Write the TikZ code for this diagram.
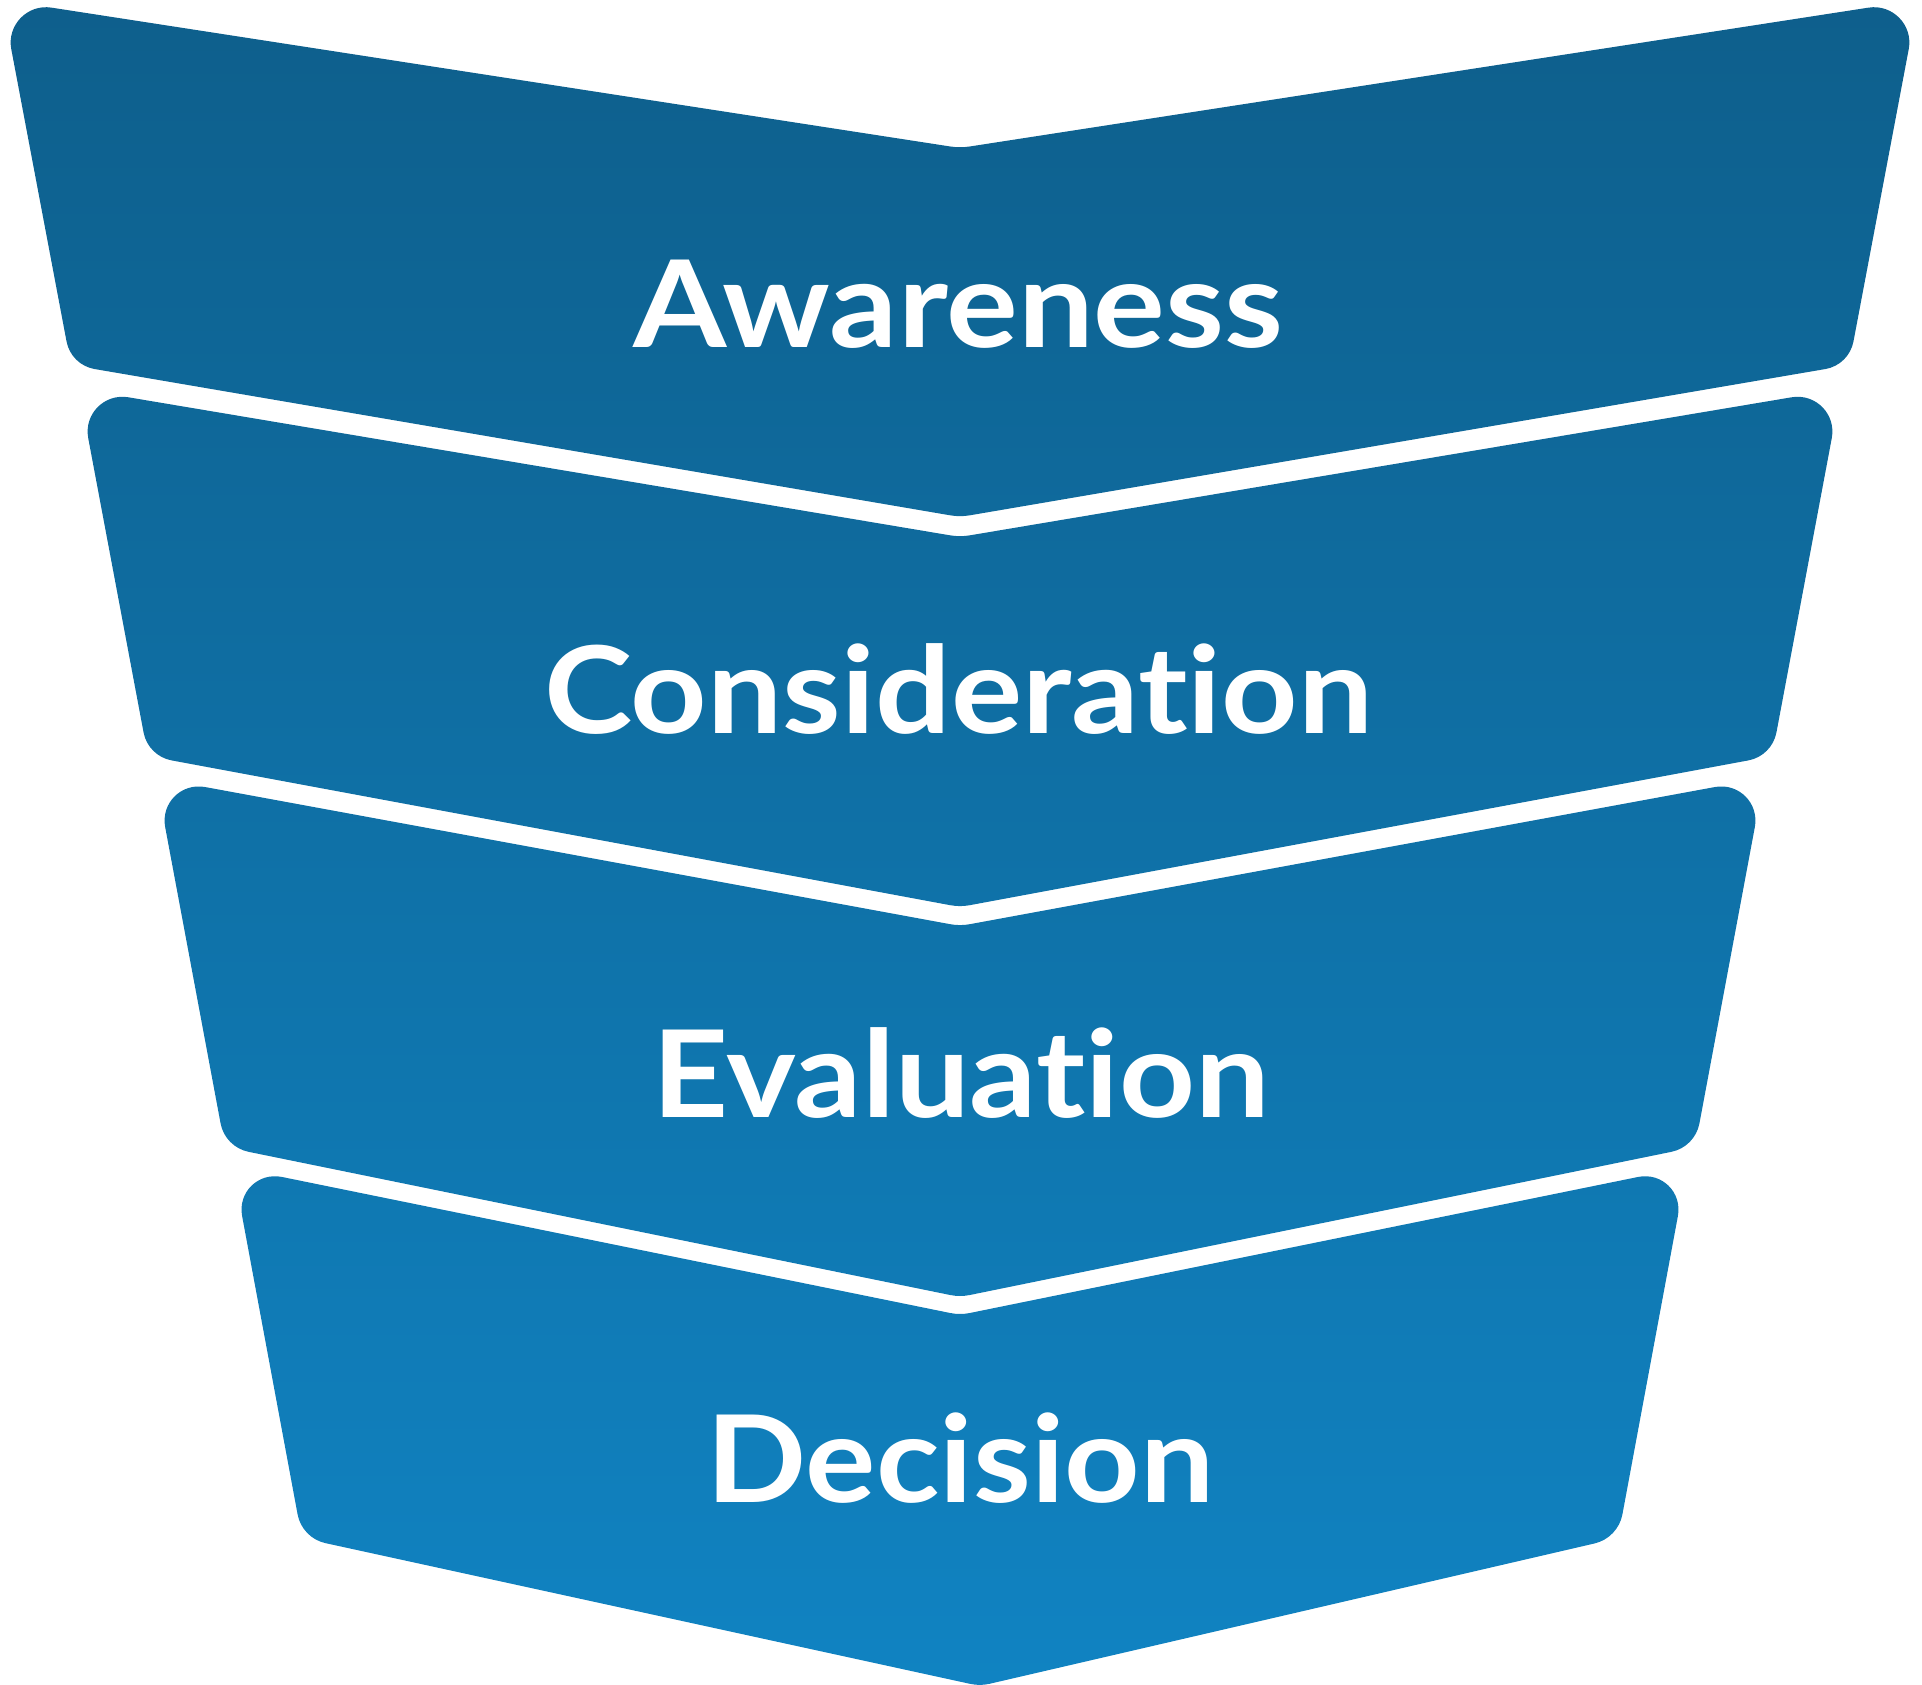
\documentclass[tikz,border=0pt]{standalone}
\usepackage{fontspec}
\setmainfont{Lato}[Ligatures={NoCommon}]
\usetikzlibrary{calc}
\definecolor{ctop}{RGB}{14,95,140}
\definecolor{cbot}{RGB}{16,131,194}

% rounded corner helper: name, previous vertex, vertex, next vertex, cut length, control fraction
\newcommand{\rcorner}[6]{%
  \coordinate (#1a) at ($(#3)!#5!(#2)$);
  \coordinate (#1b) at ($(#3)!#5!(#4)$);
  \coordinate (#1p) at ($(#3)!#6!(#1a)$);
  \coordinate (#1q) at ($(#3)!#6!(#1b)$);
}
\newcommand{\mkband}[1]{%
  \rcorner{#1c1}{#1BL}{#1TL}{#1T}{50pt}{0.513}
  \rcorner{#1c2}{#1TL}{#1T}{#1TR}{10pt}{0.34}
  \rcorner{#1c3}{#1T}{#1TR}{#1BR}{50pt}{0.513}
  \rcorner{#1c4}{#1TR}{#1BR}{#1B}{24pt}{0.398}
  \rcorner{#1c5}{#1BR}{#1B}{#1BL}{10pt}{0.34}
  \rcorner{#1c6}{#1B}{#1BL}{#1TL}{24pt}{0.398}
}
\newcommand{\bandpath}[1]{%
  (#1c1b) -- (#1c2a) .. controls (#1c2p) and (#1c2q) .. (#1c2b)
  -- (#1c3a) .. controls (#1c3p) and (#1c3q) .. (#1c3b)
  -- (#1c4a) .. controls (#1c4p) and (#1c4q) .. (#1c4b)
  -- (#1c5a) .. controls (#1c5p) and (#1c5q) .. (#1c5b)
  -- (#1c6a) .. controls (#1c6p) and (#1c6q) .. (#1c6b)
  -- (#1c1a) .. controls (#1c1p) and (#1c1q) .. (#1c1b) -- cycle
}

\begin{document}
\begin{tikzpicture}[x=1pt,y=-1pt,
  lbl/.style={text=white, inner sep=0pt, anchor=base,
    font=\fontsize{121}{121}\selectfont\bfseries}]
\useasboundingbox (0,0) rectangle (1922,1685);

% band 1
\coordinate (aTL) at (2,0);     \coordinate (aT) at (960,148);
\coordinate (aTR) at (1918,0);  \coordinate (aBR) at (1849,365);
\coordinate (aB) at (960,517);  \coordinate (aBL) at (71,365);
% band 2
\coordinate (bTL) at (79,389);   \coordinate (bT) at (960,537);
\coordinate (bTR) at (1841,389); \coordinate (bBR) at (1772,756);
\coordinate (bB) at (960,907);   \coordinate (bBL) at (148,756);
% band 3
\coordinate (cTL) at (156,778);  \coordinate (cT) at (960,926);
\coordinate (cTR) at (1764,778); \coordinate (cBR) at (1695,1147);
\coordinate (cB) at (960,1297);  \coordinate (cBL) at (225,1147);
% band 4
\coordinate (dTL) at (233,1167);  \coordinate (dT) at (960,1315);
\coordinate (dTR) at (1687,1167); \coordinate (dBR) at (1618,1538);
\coordinate (dB) at (980,1686);   \coordinate (dBL) at (302,1538);

\mkband{a}\mkband{b}\mkband{c}\mkband{d}

\shade[top color=ctop, bottom color=cbot]
  \bandpath{a} \bandpath{b} \bandpath{c} \bandpath{d};

\node[lbl] (aw) at (958.5,348) {\resizebox{650pt}{\height}{Awareness}};
\node[lbl] (co) at (958.5,733) {\resizebox{829pt}{\height}{Consideration}};
\node[lbl] (ev) at (961,1117) {\resizebox{617pt}{\height}{Evaluation}};
\node[lbl] (de) at (960.5,1502) {\resizebox{508pt}{\height}{Decision}};
\end{tikzpicture}
\end{document}
